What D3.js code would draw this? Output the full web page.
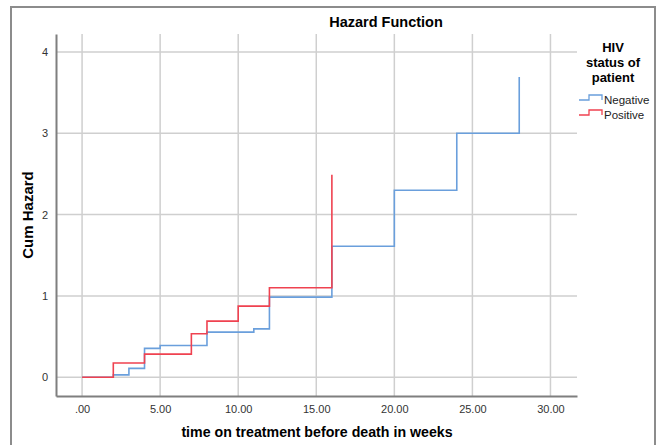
<!DOCTYPE html>
<html>
<head>
<meta charset="utf-8">
<script src="https://cdn.jsdelivr.net/npm/d3@7"></script>
<style>
  body { margin: 0; background: #fff; }
  svg { display: block; font-family: Arial, "Liberation Sans", sans-serif; }
</style>
</head>
<body>
<script>
// step times (weeks) and cumulative hazard after each step
var negTimes = [0, 2, 3, 4, 5, 8, 11, 12, 16, 20, 24, 28];
var negHazard = [0, 0.03, 0.11, 0.355, 0.39, 0.555, 0.595, 0.985, 1.61, 2.3, 3.0, 3.69];
var posTimes = [0, 2, 4, 7, 8, 10, 12, 16];
var posHazard = [0, 0.175, 0.285, 0.535, 0.69, 0.875, 1.1, 2.49];
var xTicks = [0, 5, 10, 15, 20, 25, 30];
var yTicks = [0, 1, 2, 3, 4];
var groups = ['Negative', 'Positive'];
var colors = ['#6a9fdc', '#ef4250'];

var width = 659, height = 445;
var svg = d3.select('body').append('svg')
    .attr('width', width).attr('height', height);

// outer frame
svg.append('path')
    .attr('d', 'M11,446V7H655V446')
    .attr('fill', 'none').attr('stroke', '#8c8c8c').attr('stroke-width', 2);

var x = d3.scaleLinear().domain([-1.67, 31.7]).range([56, 577]);
var y = d3.scaleLinear().domain([-0.23, 4.22]).range([396, 34]);

// grid
svg.append('g').selectAll('line').data(xTicks).enter().append('line')
    .attr('x1', function(d) { return x(d); }).attr('x2', function(d) { return x(d); })
    .attr('y1', y.range()[1]).attr('y2', y.range()[0])
    .attr('stroke', '#cfcfcf').attr('stroke-width', 1.5);
svg.append('g').selectAll('line').data(yTicks).enter().append('line')
    .attr('y1', function(d) { return y(d); }).attr('y2', function(d) { return y(d); })
    .attr('x1', x.range()[0]).attr('x2', x.range()[1])
    .attr('stroke', '#cfcfcf').attr('stroke-width', 1.5);

// axes
var xAxis = svg.append('g').attr('transform', 'translate(0,396)')
    .call(d3.axisBottom(x).tickValues(xTicks).tickSize(0).tickPadding(9)
        .tickFormat(function(d) { return d === 0 ? '.00' : d3.format('.2f')(d); }));
var yAxis = svg.append('g').attr('transform', 'translate(56,0)')
    .call(d3.axisLeft(y).tickValues(yTicks).tickSize(0).tickPadding(8)
        .tickFormat(d3.format('d')));
[xAxis, yAxis].forEach(function(a) {
    a.select('.domain').attr('stroke', '#7f7f7f').attr('stroke-width', 2);
    a.selectAll('text').attr('font-size', 11).attr('fill', '#333')
        .attr('font-family', 'Arial, "Liberation Sans", sans-serif');
});
xAxis.selectAll('text').attr('dy', '0.71em');

// step lines
var line = d3.line()
    .x(function(d) { return x(d[0]); })
    .y(function(d) { return y(d[1]); })
    .curve(d3.curveStepAfter);

function series(times, hazard) {
    return times.map(function(t, i) { return [t, hazard[i]]; });
}

svg.append('path').datum(series(negTimes, negHazard))
    .attr('d', line).attr('fill', 'none')
    .attr('stroke', colors[0]).attr('stroke-width', 1.6);
svg.append('path').datum(series(posTimes, posHazard))
    .attr('d', line).attr('fill', 'none')
    .attr('stroke', colors[1]).attr('stroke-width', 1.6);

// titles
svg.append('text').attr('x', 386).attr('y', 27).attr('text-anchor', 'middle')
    .attr('font-size', 14.5).attr('font-weight', 'bold').text('Hazard Function');
svg.append('text').attr('x', 317).attr('y', 437).attr('text-anchor', 'middle')
    .attr('font-size', 14.2).attr('font-weight', 'bold')
    .text('time on treatment before death in weeks');
svg.append('text').attr('transform', 'translate(33,215) rotate(-90)')
    .attr('text-anchor', 'middle')
    .attr('font-size', 15).attr('font-weight', 'bold').text('Cum Hazard');

// legend
var legTitle = svg.append('text').attr('text-anchor', 'middle')
    .attr('font-size', 13).attr('font-weight', 'bold');
['HIV', 'status of', 'patient'].forEach(function(t, i) {
    legTitle.append('tspan').attr('x', 613).attr('y', 52 + i * 15).text(t);
});
var leg = svg.append('g').selectAll('g').data(groups).enter().append('g')
    .attr('transform', function(d, i) { return 'translate(579,' + (100 + i * 15) + ')'; });
leg.append('path')
    .attr('d', 'M0,0H10V-5H23V0')
    .attr('fill', 'none').attr('stroke-width', 1.3)
    .attr('stroke', function(d, i) { return colors[i]; });
leg.append('text').attr('x', 25).attr('y', 4)
    .attr('font-size', 11.5).attr('fill', '#222').text(function(d) { return d; });
</script>
</body>
</html>
